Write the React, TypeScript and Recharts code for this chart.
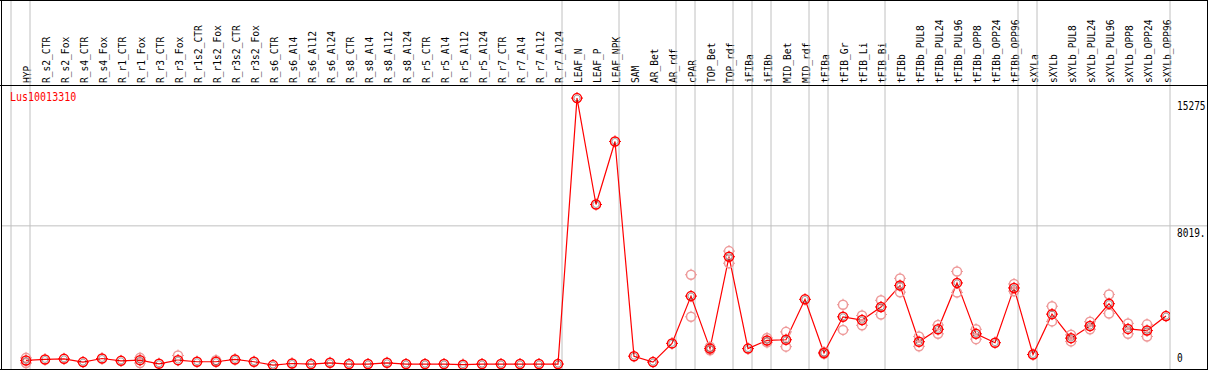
import { ComposedChart, Line, XAxis, YAxis, ReferenceLine } from "recharts";

const samples = [
  "HYP", "R_s2_CTR", "R_s2_Fox", "R_s4_CTR", "R_s4_Fox", "R_r1_CTR", "R_r1_Fox",
  "R_r3_CTR", "R_r3_Fox", "R_r1s2_CTR", "R_r1s2_Fox", "R_r3s2_CTR", "R_r3s2_Fox",
  "R_s6_CTR", "R_s6_Al4", "R_s6_Al12", "R_s6_Al24", "R_s8_CTR", "R_s8_Al4", "R_s8_Al12",
  "R_s8_Al24", "R_r5_CTR", "R_r5_Al4", "R_r5_Al12", "R_r5_Al24", "R_r7_CTR", "R_r7_Al4",
  "R_r7_Al12", "R_r7_Al24", "LEAF_N", "LEAF_P", "LEAF_NPK", "SAM", "AR_Bet", "AR_rdf",
  "cPAR", "TOP_Bet", "TOP_rdf", "iFIBa", "iFIBb", "MID_Bet", "MID_rdf", "tFIBa",
  "tFIB_Gr", "tFIB_Li", "tFIB_Bi", "tFIBb", "tFIBb_PUL8", "tFIBb_PUL24", "tFIBb_PUL96",
  "tFIBb_OPP8", "tFIBb_OPP24", "tFIBb_OPP96", "sXYLa", "sXYLb", "sXYLb_PUL8",
  "sXYLb_PUL24", "sXYLb_PUL96", "sXYLb_OPP8", "sXYLb_OPP24", "sXYLb_OPP96",
];

// mean expression per sample
const meanValues = [
  375, 430, 465, 280, 485, 350, 390, 185, 390, 300, 300, 430, 300,
  110, 200, 170, 240, 170, 170, 240, 170, 170, 170, 135, 170, 170, 170, 170, 170,
  15275, 9232, 12812, 615, 280, 1343, 4028, 1046, 6266, 1046, 1511, 1550, 3844,
  800, 2853, 2669, 3413, 4627, 1438, 2143, 4778, 1885, 1382, 4493, 710, 3004,
  1640, 2333, 3598, 2165, 2070, 2893,
];

// replicates (null where hidden behind the mean)
const repHigh: (number | null)[] = [
  520, null, null, null, null, null, 520, null, 655, null, 390, null, null,
  null, null, null, null, null, null, null, null, null, null, null, null, null, null, null, null,
  null, null, null, null, null, null, 5243, 1150, 6585, null, 1650, 1997, null,
  750, 3542, 2926, 3788, 5035, 1734, 2389, 5427, 2143, null, 4717, null, 3452,
  1829, 2574, 4123, 2479, 2423, null,
];
const repLow: (number | null)[] = [
  224, null, null, null, null, null, 224, null, null, null, null, null, null,
  null, null, null, null, null, null, null, null, null, null, null, null, null, null, null, null,
  null, null, null, null, null, null, 2853, 950, 5892, null, 1400, 1158, null,
  850, 2109, 2367, 2982, 4252, 1175, 1885, 4235, 1583, null, 4308, null, 2591,
  1455, 2143, 3038, 1885, 1734, null,
];

// index of the last sample of each group (separator drawn just after it)
const groupEnds = [-1, 0, 28, 31, 34, 35, 37, 38, 39, 41, 42, 45, 52, 53, 60];
const yTicks = [0, 8019, 15275];
const yTickLabels = ["0", "8019.", "15275"];
const geneName = "Lus10013310";

const FONT = "'DejaVu Sans Mono', 'Liberation Mono', monospace";
const GRID = "#c0c0c0";
const sep = 4 / 19;

const data = samples.map((name, i) => ({
  idx: i,
  name,
  mean: meanValues[i],
  repA: repHigh[i],
  repB: repLow[i],
}));

function Marker({ cx, cy, color, inner }: { cx: number; cy: number; color: string; inner?: boolean }) {
  return (
    <g>
      <circle cx={cx} cy={cy} r={4.5} fill="none" stroke={color} strokeWidth={1.5} />
      <line x1={cx} x2={cx} y1={cy - 6} y2={cy - 4} stroke={color} strokeWidth={1} />
      <line x1={cx} x2={cx} y1={cy + 4} y2={cy + 6} stroke={color} strokeWidth={1} />
      <line x1={cx - 6} x2={cx - 4} y1={cy} y2={cy} stroke={color} strokeWidth={1} />
      <line x1={cx + 4} x2={cx + 6} y1={cy} y2={cy} stroke={color} strokeWidth={1} />
      {inner && <circle cx={cx} cy={cy} r={3} fill="none" stroke="#000" strokeWidth={0.7} opacity={0.5} />}
    </g>
  );
}

const meanDot = (p: any) => {
  if (p.cx == null || p.cy == null || p.value == null) return <g key={p.key ?? p.index} />;
  return (
    <g key={p.key ?? p.index}>
      <Marker cx={p.cx} cy={p.cy} color="#ff0000" inner />
    </g>
  );
};

const repDot = (p: any) => {
  if (p.cx == null || p.cy == null || p.value == null) return <g key={p.key ?? p.index} />;
  return (
    <g key={p.key ?? p.index}>
      <Marker cx={p.cx} cy={p.cy} color="#ee9a9a" />
    </g>
  );
};

const XTick = (props: any) => {
  const { x, payload } = props;
  const v = payload.value as number;
  if (!Number.isInteger(v)) {
    return <line x1={x} x2={x} y1={0} y2={85} stroke={GRID} strokeWidth={1} />;
  }
  return (
    <text
      transform={`translate(${x - 3}, 83) rotate(-90) scale(1, 1.1)`}
      x={0}
      y={0}
      textAnchor="start"
      dominantBaseline="hanging"
      fontFamily={FONT}
      fontSize={9.6}
      fill="#000"
    >
      {samples[v]}
    </text>
  );
};

const YTick = (props: any) => {
  const { y, payload } = props;
  const v = payload.value as number;
  const i = yTicks.indexOf(v);
  const label = yTickLabels[i] ?? String(v);
  const ty = v === 0 ? y - 5 : y + 11.5;
  return (
    <g>
      {v !== 0 && v !== 15275 && <line x1={1170} x2={1207} y1={y} y2={y} stroke={GRID} strokeWidth={1} />}
      <text
        transform={`translate(1177, ${ty}) scale(1, 1.2)`}
        x={0}
        y={0}
        fontFamily={FONT}
        fontSize={9.5}
        fill="#000"
      >
        {label}
      </text>
    </g>
  );
};

const hline = (top: number) => (
  <div style={{ position: "absolute", left: 0, top, width: 1208, height: 1, background: "#000" }} />
);
const vline = (left: number) => (
  <div style={{ position: "absolute", left, top: 0, width: 1, height: 370, background: "#000" }} />
);

export default function App() {
  return (
    <div style={{ position: "absolute", left: 0, top: 0, width: 1209, height: 370, background: "#fff", overflow: "hidden" }}>
      <ComposedChart
        width={1209}
        height={370}
        data={data}
        margin={{ top: 0, right: 2, bottom: 1, left: 1 }}
      >
        <XAxis
          dataKey="idx"
          type="number"
          orientation="top"
          height={85}
          domain={[-25 / 19, 1144 / 19]}
          allowDataOverflow
          ticks={[...samples.map((_, i) => i), ...groupEnds.map((g) => g + sep)]}
          interval={0}
          tick={XTick}
          axisLine={false}
          tickLine={false}
        />
        <YAxis
          orientation="right"
          type="number"
          width={37}
          domain={[-112, 16019]}
          allowDataOverflow
          ticks={yTicks}
          interval={0}
          tick={YTick}
          axisLine={false}
          tickLine={false}
          tickSize={0}
        />
        <ReferenceLine y={8019} stroke={GRID} strokeWidth={1} />
        {groupEnds.map((g) => (
          <ReferenceLine key={g} x={g + sep} stroke={GRID} strokeWidth={1} />
        ))}
        <Line
          dataKey="repA"
          stroke="none"
          dot={repDot}
          activeDot={false}
          isAnimationActive={false}
          connectNulls={false}
        />
        <Line
          dataKey="repB"
          stroke="none"
          dot={repDot}
          activeDot={false}
          isAnimationActive={false}
          connectNulls={false}
        />
        <Line
          type="linear"
          dataKey="mean"
          stroke="#ff0000"
          strokeWidth={1.2}
          dot={meanDot}
          activeDot={false}
          isAnimationActive={false}
        />
      </ComposedChart>
      {hline(0)}
      {hline(85)}
      {hline(369)}
      {vline(1)}
      {vline(1207)}
      <div
        style={{
          position: "absolute",
          left: 10,
          top: 91,
          fontFamily: FONT,
          fontSize: 10,
          lineHeight: "12px",
          color: "#ff0000",
          transform: "scaleY(1.15)",
          transformOrigin: "left top",
        }}
      >
        {geneName}
      </div>
    </div>
  );
}
